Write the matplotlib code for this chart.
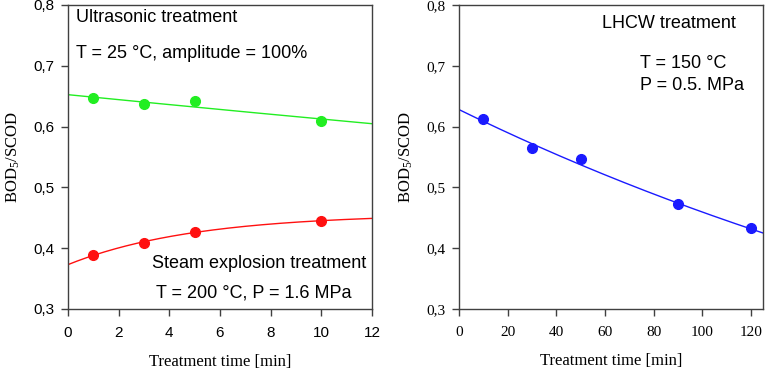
import numpy as np
import matplotlib
matplotlib.use("Agg")
import matplotlib.pyplot as plt
from matplotlib.ticker import FuncFormatter

plt.rcParams['mathtext.fontset'] = 'custom'
plt.rcParams['mathtext.rm'] = 'Liberation Serif'
plt.rcParams['mathtext.it'] = 'Liberation Serif:italic'

# ---- data ----
us_time = [1, 3, 5, 10]
us_ratio = [0.647, 0.637, 0.642, 0.609]
se_time = [1, 3, 5, 10]
se_ratio = [0.388, 0.408, 0.427, 0.445]
lhcw_time = [10, 30, 50, 90, 120]
lhcw_ratio = [0.612, 0.565, 0.547, 0.472, 0.433]

# fitted curve parameters
us_fit = (0.6525, 0.00633)            # y = a*exp(-k t)
se_fit = (0.4566, 0.0836, 0.20)       # y = c - d*exp(-k t)
lhcw_fit = (0.628, 0.003123)          # y = a*exp(-k t)

left_xticks = [0, 2, 4, 6, 8, 10, 12]
right_xticks = [0, 20, 40, 60, 80, 100, 120]
yticks = [0.3, 0.4, 0.5, 0.6, 0.7, 0.8]

W, H = 765, 370
fig = plt.figure(figsize=(W / 100, H / 100), dpi=100)

def rect(l, t, r, b):
    return [l / W, 1 - b / H, (r - l) / W, (b - t) / H]

ax1 = fig.add_axes(rect(68, 5, 372, 309))
ax2 = fig.add_axes(rect(459, 5, 763, 309))

comma = FuncFormatter(lambda v, p: f"{v:.1f}".replace('.', ','))
spine_col = '#404040'

for ax, tickfam in ((ax1, 'Liberation Sans'), (ax2, 'Liberation Serif')):
    ax.set_ylim(0.3, 0.8)
    ax.set_yticks(yticks)
    ax.yaxis.set_major_formatter(comma)
    for s in ax.spines.values():
        s.set_color(spine_col)
        s.set_linewidth(1.0)
    ax.tick_params(direction='out', length=5, width=1, color=spine_col,
                   labelsize=11, pad=5)
    ax.tick_params(axis='x', pad=7)
    for lab in ax.get_xticklabels() + ax.get_yticklabels():
        lab.set_family(tickfam)
    ax.set_xlabel('Treatment time [min]', family='Liberation Serif', fontsize=12, labelpad=10)
    ax.set_ylabel('BOD$_5$/SCOD', family='Liberation Serif', fontsize=12, labelpad=8)

# left panel
ax1.set_xlim(0, 12)
ax1.set_xticks(left_xticks)
for lab in ax1.get_xticklabels():
    lab.set_family('Liberation Sans')
t = np.linspace(0, 12, 200)
ax1.plot(t, us_fit[0] * np.exp(-us_fit[1] * t), color='#22ee22', lw=1)
ax1.plot(t, se_fit[0] - se_fit[1] * np.exp(-se_fit[2] * t), color='#ff1010', lw=1)
ax1.plot(us_time, us_ratio, 'o', color='#22ee22', ms=7, mec='#22ee22')
ax1.plot(se_time, se_ratio, 'o', color='#ff1010', ms=7, mec='#ff1010')

# right panel
ax2.set_xlim(0, 125)
ax2.set_xticks(right_xticks)
for lab in ax2.get_xticklabels():
    lab.set_family('Liberation Serif')
t2 = np.linspace(0, 125, 200)
ax2.plot(t2, lhcw_fit[0] * np.exp(-lhcw_fit[1] * t2), color='#1a1aff', lw=1)
ax2.plot(lhcw_time, lhcw_ratio, 'o', color='#1a1aff', ms=7, mec='#1a1aff')

def ftext(x, y, s, **kw):
    fig.text(x / W, 1 - y / H, s, family='Liberation Sans', fontsize=13,
             va='center', **kw)

ftext(76, 17, 'Ultrasonic treatment')
ftext(76, 53, 'T = 25 °C, amplitude = 100%')
ftext(366, 263, 'Steam explosion treatment', ha='right')
ftext(352, 293, 'T = 200 °C, P = 1.6 MPa', ha='right')
ftext(736, 23, 'LHCW treatment', ha='right')
ftext(640, 64, 'T = 150 °C')
ftext(640, 86, 'P = 0.5. MPa')

fig.savefig('out.png', dpi=100)
